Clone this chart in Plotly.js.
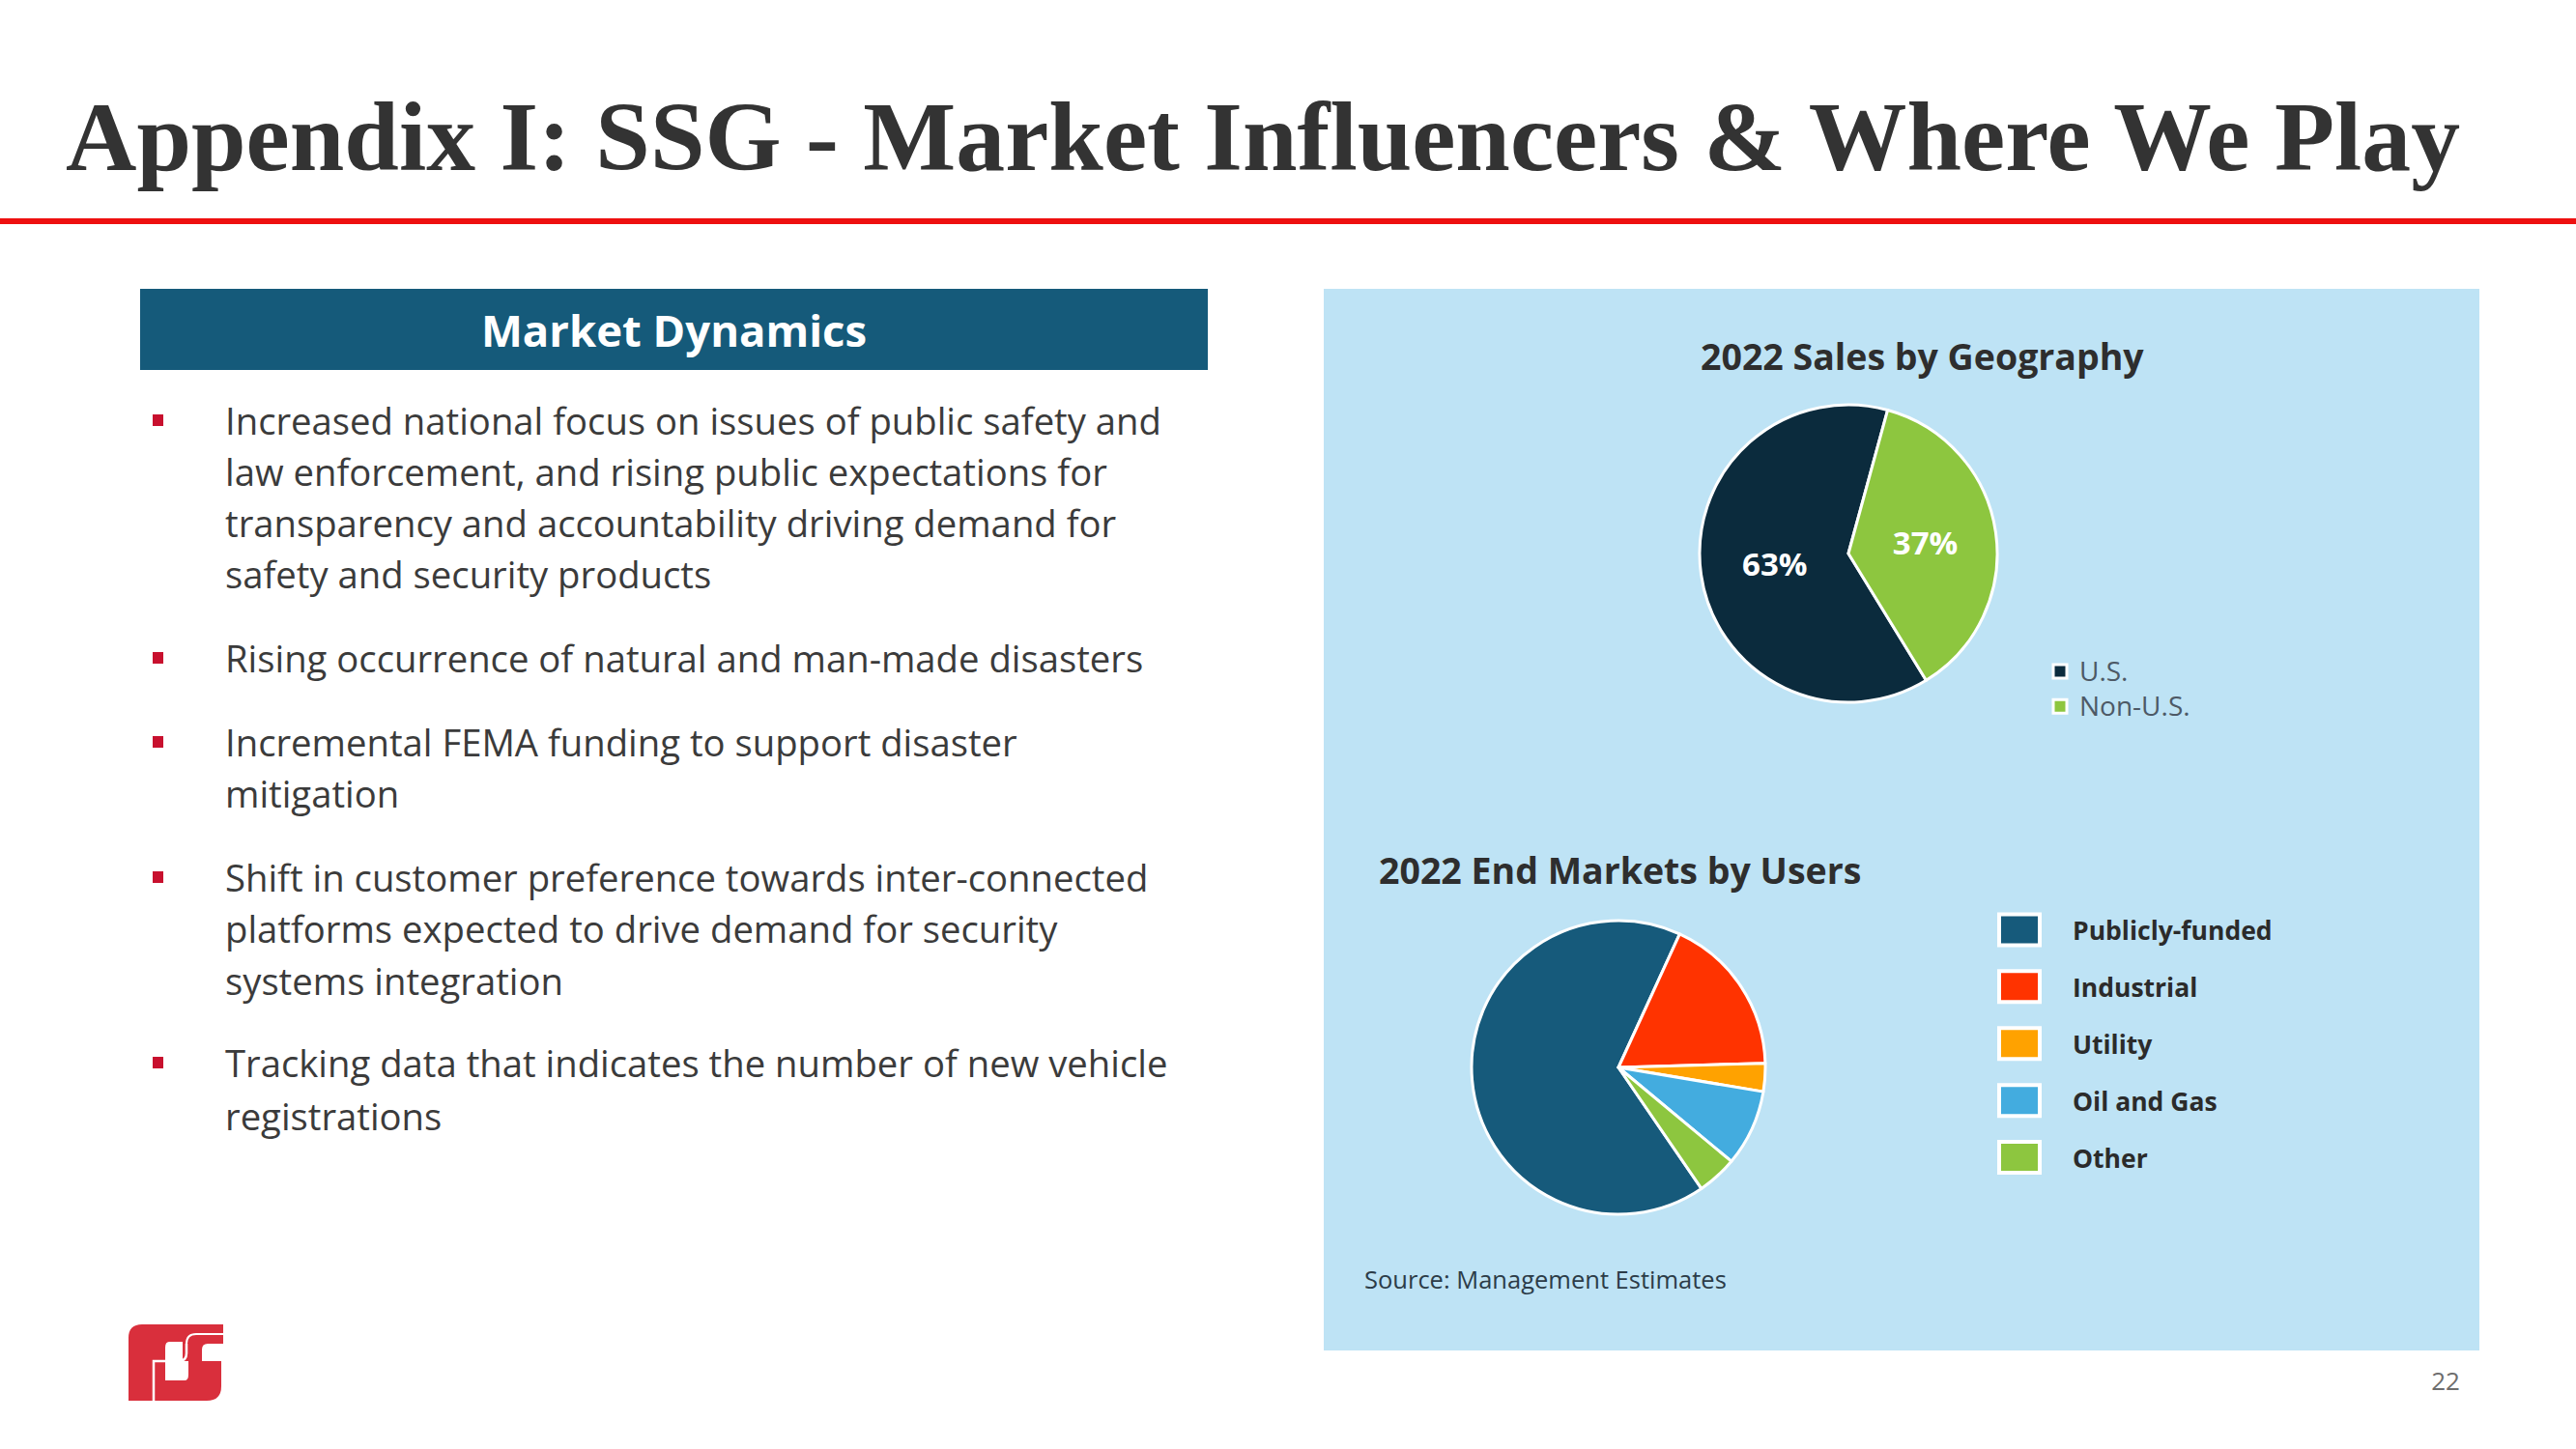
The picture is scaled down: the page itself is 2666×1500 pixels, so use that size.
<!DOCTYPE html>
<html>
<head>
<meta charset="utf-8">
<script src="https://cdn.plot.ly/plotly-3.0.1.min.js"></script>
<style>
html,body{margin:0;padding:0;background:#ffffff;}
#page{position:relative;width:2666px;height:1500px;overflow:hidden;background:#ffffff;}
#bg{position:absolute;left:0;top:0;}
#chart{position:absolute;left:1370px;top:299px;width:1196px;height:1099px;}
</style>
</head>
<body>
<div id="page">
<svg id="bg" width="2666" height="1500" xmlns="http://www.w3.org/2000/svg"></svg>
<div id="chart"></div>
</div>
<script>
// ---------------- DATA ----------------
const slideTitle = "Appendix I: SSG - Market Influencers & Where We Play";
const boxHeader = "Market Dynamics";
const bullets = [
  ["Increased national focus on issues of public safety and",
   "law enforcement, and rising public expectations for",
   "transparency and accountability driving demand for",
   "safety and security products"],
  ["Rising occurrence of natural and man-made disasters"],
  ["Incremental FEMA funding to support disaster",
   "mitigation"],
  ["Shift in customer preference towards inter-connected",
   "platforms expected to drive demand for security",
   "systems integration"],
  ["Tracking data that indicates the number of new vehicle",
   "registrations"]
];
const geoTitle = "2022 Sales by Geography";
const geoLabels = ["U.S.", "Non-U.S."];
const geoValues = [63, 37];
const geoColors = ["#0B2B3D", "#8DC63F"];

const endTitle = "2022 End Markets by Users";
const endLabels = ["Publicly-funded", "Industrial", "Utility", "Oil and Gas", "Other"];
const endValues = [66.4, 17.7, 3.1, 8.4, 4.4];
const endColors = ["#165A7B", "#FF3300", "#FFA200", "#43ACDF", "#8DC63F"];

const sourceNote = "Source: Management Estimates";
const pageNumber = "22";

// ---------------- SLIDE (SVG) ----------------
const NS = "http://www.w3.org/2000/svg";
const svg = document.getElementById("bg");
function el(tag, attrs, text) {
  const e = document.createElementNS(NS, tag);
  for (const k in attrs) e.setAttribute(k, attrs[k]);
  if (text !== undefined) e.textContent = text;
  svg.appendChild(e);
  return e;
}
// title
el("text", {x: 68, y: 176, "font-family": "Liberation Serif, DejaVu Serif, serif", "font-weight": "700",
  "font-size": 101, fill: "#333333", textLength: 2478, lengthAdjust: "spacingAndGlyphs"}, slideTitle);
// red rule
el("rect", {x: 0, y: 226, width: 2666, height: 6, fill: "#EE1010"});
// header box
el("rect", {x: 145, y: 299, width: 1105, height: 84, fill: "#155A7A"});
el("text", {x: 697.5, y: 359, "text-anchor": "middle", "font-family": "Open Sans, sans-serif", "font-weight": "700",
  "font-size": 45.5, fill: "#ffffff"}, boxHeader);
// bullets
const baselines = [[450, 503, 556, 609], [696], [783, 836], [923, 976, 1030], [1115, 1170]];
const bodyFont = "Open Sans, sans-serif";
// fit font size so that the first line is as wide as in the reference
const probe = el("text", {x: 0, y: -100, "font-family": bodyFont, "font-size": 100}, bullets[0][0]);
const bodySize = 100 * 969 / probe.getComputedTextLength();
svg.removeChild(probe);
bullets.forEach((grp, gi) => {
  el("rect", {x: 158, y: baselines[gi][0] - 21, width: 11, height: 12, fill: "#C8102E"});
  grp.forEach((line, li) => {
    el("text", {x: 233, y: baselines[gi][li], "font-family": bodyFont, "font-size": bodySize.toFixed(2),
      fill: "#3B3B3B"}, line);
  });
});
// page number
el("text", {x: 2531, y: 1439, "text-anchor": "middle", "font-family": "Open Sans, sans-serif", "font-size": 26,
  fill: "#6D6D6D"}, pageNumber);
// logo
const g = document.createElementNS(NS, "g");
g.setAttribute("transform", "translate(133,1369)");
svg.appendChild(g);
function gp(d, attrs) {
  const e = document.createElementNS(NS, "path");
  e.setAttribute("d", d);
  for (const k in attrs) e.setAttribute(k, attrs[k]);
  g.appendChild(e);
}
gp("M0,81 V16 Q0,2 14,2 H56 V20 H42 Q38,20 38,26 V81 Z", {fill: "#D92F3C"});
gp("M56,2 H98 V22 H82 Q76,22 76,28 V40 H96 V66 Q96,81 81,81 H38 V60 H58 Q62,60 62,54 V40 H56 Z", {fill: "#D92F3C"});
gp("M26,81 V40 H52 Q60,40 60,32 V22", {fill: "none", stroke: "#ffffff", "stroke-width": 2.5});
gp("M60,22 Q60,12 70,12 H98", {fill: "none", stroke: "#ffffff", "stroke-width": 2});

// ---------------- CHART (Plotly) ----------------
const W = 1196, H = 1099;
const fontFam = "Open Sans, sans-serif";
const data = [
  {
    type: "pie",
    labels: geoLabels.map(s => '<span style="font-size:28px">' + s + '</span>'),
    values: geoValues,
    sort: false,
    direction: "clockwise",
    rotation: 148.5,
    marker: {colors: geoColors, line: {color: "#ffffff", width: 3}},
    textinfo: "percent",
    textposition: "inside",
    insidetextorientation: "horizontal",
    textfont: {family: fontFam, size: 33, color: "#ffffff", weight: 700},
    domain: {x: [389 / W, 697 / W], y: [1 - 428 / H, 1 - 120 / H]},
    hoverinfo: "none",
    legend: "legend"
  },
  {
    type: "pie",
    labels: endLabels.map(s => '<span style="font-size:26.5px">' + s + '</span>'),
    values: endValues,
    sort: false,
    direction: "clockwise",
    rotation: 145.6,
    marker: {colors: endColors, line: {color: "#ffffff", width: 3}},
    textinfo: "none",
    domain: {x: [153 / W, 457 / W], y: [1 - 958 / H, 1 - 654 / H]},
    hoverinfo: "none",
    legend: "legend2"
  }
];
const layout = {
  width: W, height: H,
  margin: {l: 0, r: 0, t: 0, b: 0, pad: 0},
  paper_bgcolor: "#BEE3F5",
  plot_bgcolor: "#BEE3F5",
  font: {family: fontFam, color: "#333333"},
  showlegend: true,
  legend: {
    x: 742 / W, y: 1 - 373 / H, xanchor: "left", yanchor: "top",
    bgcolor: "rgba(0,0,0,0)", borderwidth: 0,
    font: {family: fontFam, size: 25.5, color: "#4D5966"}
  },
  legend2: {
    x: 696 / W, y: 1 - 623 / H, xanchor: "left", yanchor: "top",
    bgcolor: "rgba(0,0,0,0)", borderwidth: 0, itemwidth: 69,
    font: {family: fontFam, size: 43, color: "#2B2B2B", weight: 700}
  },
  annotations: [
    {text: geoTitle, xref: "paper", yref: "paper", x: 619 / W, y: 1 - 70 / H, xanchor: "center", yanchor: "middle",
     showarrow: false, font: {family: fontFam, size: 37.5, color: "#2E2E2E", weight: 700}},
    {text: endTitle, xref: "paper", yref: "paper", x: 55 / W, y: 1 - 601 / H, xanchor: "left", yanchor: "middle",
     showarrow: false, font: {family: fontFam, size: 37.5, color: "#2E2E2E", weight: 700}},
    {text: sourceNote, xref: "paper", yref: "paper", x: 40 / W, y: 1 - 1025 / H, xanchor: "left", yanchor: "middle",
     showarrow: false, font: {family: fontFam, size: 25.5, color: "#2C3C48"}}
  ]
};
const gd = document.getElementById("chart");
function tuneLegends() {
  gd.querySelectorAll("g.legend path.legendpie").forEach(p => {
    p.setAttribute("d", "M7,7H-7V-7H7Z");
    p.style.strokeWidth = "3px";
  });
  // larger swatches for the end-market legend, centred on their labels
  gd.querySelectorAll("g.legend2 path.legendpie").forEach(p => {
    p.setAttribute("d", "M21,16H-21V-16H21Z");
    p.setAttribute("transform", "translate(24,6)");
    p.style.strokeWidth = "4px";
  });
}
Plotly.newPlot(gd, data, layout, {staticPlot: true, displayModeBar: false}).then(function () {
  tuneLegends();
  setTimeout(tuneLegends, 300);
});
</script>
</body>
</html>
